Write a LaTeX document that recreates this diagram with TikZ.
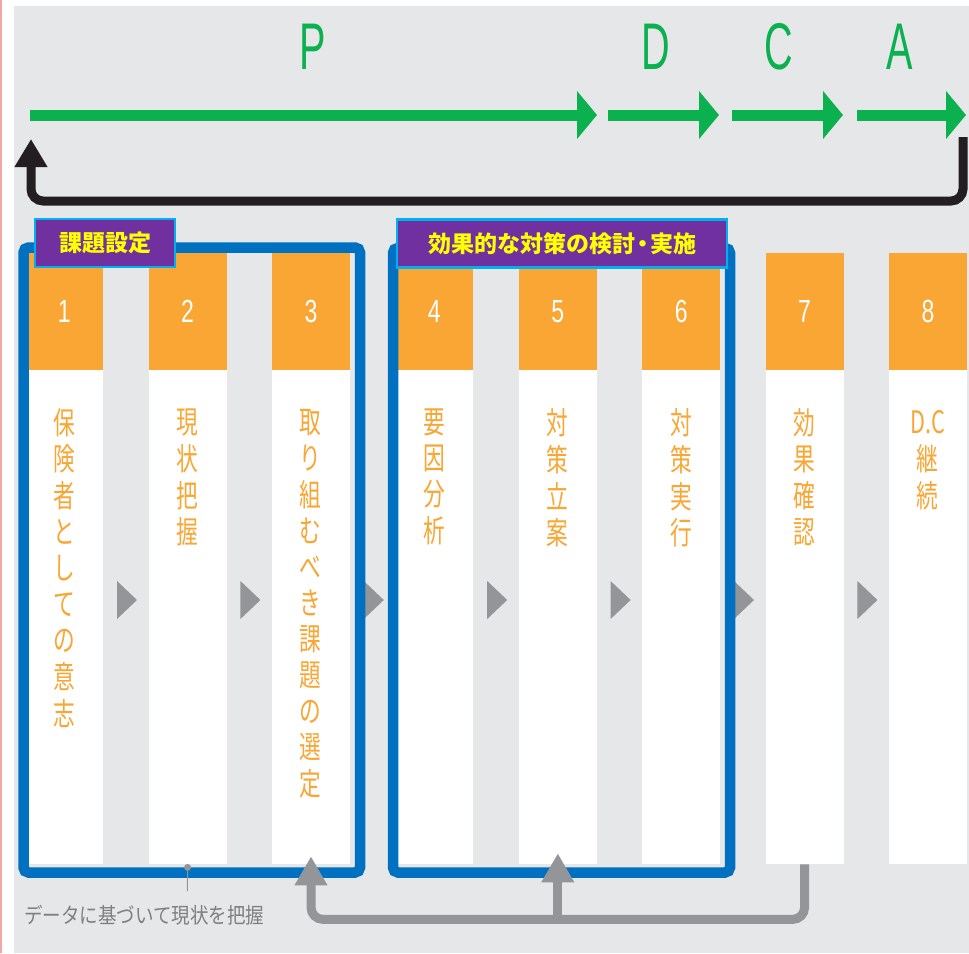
\documentclass[tikz,border=0pt]{standalone}
\usepackage{fontspec}
\usepackage{graphicx}
\setmainfont{Liberation Sans}
\newfontfamily\jp{Noto Sans CJK JP}
\usetikzlibrary{arrows.meta}

\definecolor{bggray}{HTML}{E6E7E8}
\definecolor{pinkedge}{HTML}{F4A5A5}
\definecolor{pdcagreen}{HTML}{0BB04F}
\definecolor{loopblack}{HTML}{231F20}
\definecolor{steporange}{HTML}{F9A634}
\definecolor{groupblue}{HTML}{0070C0}
\definecolor{tagpurple}{HTML}{7030A0}
\definecolor{tagcyan}{HTML}{00B0F0}
\definecolor{tagyellow}{HTML}{FFFF00}
\definecolor{connGray}{HTML}{939598}
\definecolor{noteGray}{HTML}{7D7F82}

% vertical (top-to-bottom) Japanese text, one glyph per row
\newcommand\vertstack[1]{\scalebox{0.7}[1]{\fontsize{31}{36}\selectfont\jp
  \begin{tabular}{@{}c@{}}#1\end{tabular}}}

\tikzset{
  head/.style={rectangle, fill=steporange, minimum width=78pt, minimum height=117pt,
    inner sep=0pt, anchor=north west, text=white,
    font=\fontsize{32}{32}\selectfont},
  body/.style={rectangle, fill=white, minimum width=78pt, minimum height=494pt,
    inner sep=0pt, anchor=north west},
  vtext/.style={anchor=north, inner sep=0pt, text=steporange},
  pdca/.style={text=pdcagreen, inner sep=0pt, font=\fontsize{66}{66}\selectfont},
  flow/.style={draw=pdcagreen, line width=11pt,
    -{Triangle[width=47pt,length=20pt]}},
  loop/.style={draw=loopblack, line width=9pt, rounded corners=12pt,
    -{Triangle[width=31pt,length=28pt]}},
  group/.style={draw=groupblue, line width=10.5pt, rounded corners=5pt},
  tag/.style={rectangle, fill=tagpurple, draw=tagcyan, line width=2.5pt,
    minimum height=48pt, inner sep=0pt, text=tagyellow,
    font=\jp\bfseries\fontsize{23}{23}\selectfont},
  conn/.style={draw=connGray, line width=9pt, rounded corners=12pt},
  connhead/.style={conn, -{Triangle[width=31pt,length=29pt]}},
  stepgap/.style={fill=connGray},
}

\begin{document}
\begin{tikzpicture}[x=1pt, y=-1pt]
  \useasboundingbox (0,0) rectangle (969,953);
  % page frame
  \fill[white] (0,0) rectangle (969,953);
  \fill[pinkedge] (0,0) rectangle (1.6,953);
  \fill[bggray] (14,6) rectangle (969,953);

  % PDCA letters
  \node[pdca] (P) at (313,47) {\scalebox{0.6}[1]{P}};
  \node[pdca] (D) at (656,47) {\scalebox{0.6}[1]{D}};
  \node[pdca] (C) at (779,47) {\scalebox{0.6}[1]{C}};
  \node[pdca] (A) at (900,47) {\scalebox{0.6}[1]{A}};

  % PDCA flow arrows
  \coordinate (p0) at (30,115);  \coordinate (p1) at (597,115);
  \coordinate (d0) at (608,115); \coordinate (d1) at (719,115);
  \coordinate (c0) at (732,115); \coordinate (c1) at (843,115);
  \coordinate (a0) at (857,115); \coordinate (a1) at (966,115);
  \draw[flow] (p0) -- (p1);
  \draw[flow] (d0) -- (d1);
  \draw[flow] (c0) -- (c1);
  \draw[flow] (a0) -- (a1);

  % return loop
  \coordinate (loopStart) at (963,137);
  \coordinate (loopEnd) at (31,139);
  \draw[loop] (loopStart) -- (963,201) -- (31,201) -- (loopEnd);

  % eight step columns
  \foreach \i in {1,...,8} {
    \pgfmathsetmacro\xl{25+123.4*(\i-1)}
    \node[body] (b\i) at (\xl,370) {};
    \node[head] (h\i) at (\xl,253) {\scalebox{0.72}[1]{\i}};
  }

  % gap markers between steps
  \foreach \i in {1,...,7} {
    \pgfmathsetmacro\xt{117+123.4*(\i-1)}
    \fill[stepgap] (\xt,581) -- ({\xt+20},600) -- (\xt,619) -- cycle;
  }

  % step texts
  \node[vtext] (t1) at (64.0,408) {\vertstack{保\\険\\者\\と\\し\\て\\の\\意\\志}};
  \node[vtext] (t2) at (187.4,408) {\vertstack{現\\状\\把\\握}};
  \node[vtext] (t3) at (310.8,408) {\vertstack{取\\り\\組\\む\\べ\\き\\課\\題\\の\\選\\定}};
  \node[vtext] (t4) at (434.2,408) {\vertstack{要\\因\\分\\析}};
  \node[vtext] (t5) at (557.6,408) {\vertstack{対\\策\\立\\案}};
  \node[vtext] (t6) at (681.0,408) {\vertstack{対\\策\\実\\行}};
  \node[vtext] (t7) at (804.4,408) {\vertstack{効\\果\\確\\認}};
  \node[vtext] (t8) at (927.8,408) {\vertstack{D.C\\継\\続}};

  % group frames
  \draw[group] (23.5,247.5) rectangle (360,872.5);
  \draw[group] (393,248) rectangle (730,872.5);

  % group tags
  \node[tag, minimum width=140pt] (g1) at (105,243) {課題設定};
  \node[tag, minimum width=330pt] (g2) at (562,243.5) {効果的な対策の検討\kern-4pt・\kern-4pt実施};

  % feedback from step 7 to steps 3 and 5
  \coordinate (fbMid) at (557.6,919);
  \draw[connhead] (b7.south) -- ++(0,55) -| ([yshift=8pt]b3.south);
  \draw[connhead] (b5.south |- fbMid) -- ([yshift=11pt]b5.south);

  % note under step 2
  \fill[connGray] ([yshift=-3pt]b2.south) circle (3.5pt);
  \coordinate (noteTop) at (187.4,891);
  \draw[connGray, line width=1pt] ([yshift=-3pt]b2.south) -- (noteTop);
  \node[anchor=west, inner sep=0pt, text=noteGray] (note) at (24,915)
    {\scalebox{0.86}[1]{\jp\fontsize{21.5}{21.5}\selectfont データに基づいて現状を把握}};
\end{tikzpicture}
\end{document}
